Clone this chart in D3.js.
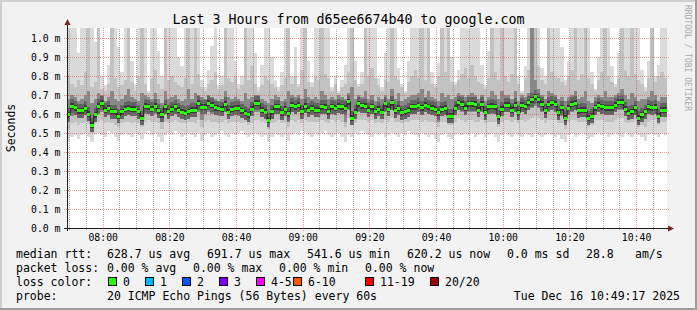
<!DOCTYPE html>
<html>
<head>
<meta charset="utf-8">
<script src="https://cdn.jsdelivr.net/npm/d3@7"></script>
<style>
html, body { margin: 0; padding: 0; background: #f2f2f2; }
svg { display: block; }
text { font-family: "DejaVu Sans Mono", monospace; fill: #000; }
</style>
</head>
<body>
<svg class="chart-smoke" width="697" height="310"></svg>
<script>

// one value per 60 s step, in milliseconds, 180 steps
var median = [
    0.595,0.642,0.633,0.616,0.618,0.630,0.598,0.542,0.595,0.642,0.656,0.621,0.630,0.612,0.612,0.589,0.612,0.625,0.630,0.625,
    0.625,0.612,0.577,0.642,0.639,0.626,0.642,0.618,0.595,0.639,0.612,0.626,0.637,0.621,0.609,0.605,0.612,0.621,0.621,0.656,
    0.635,0.635,0.656,0.647,0.633,0.630,0.626,0.651,0.609,0.626,0.630,0.630,0.618,0.604,0.595,0.625,0.656,0.656,0.621,0.609,
    0.568,0.612,0.639,0.639,0.607,0.625,0.600,0.647,0.639,0.647,0.612,0.642,0.621,0.630,0.621,0.621,0.639,0.635,0.612,0.639,
    0.630,0.642,0.639,0.630,0.665,0.577,0.609,0.653,0.644,0.642,0.621,0.639,0.612,0.625,0.609,0.653,0.625,0.660,0.618,0.630,
    0.607,0.612,0.621,0.639,0.639,0.647,0.633,0.647,0.639,0.630,0.625,0.607,0.625,0.630,0.589,0.589,0.630,0.660,0.651,0.630,
    0.653,0.653,0.651,0.621,0.651,0.607,0.639,0.642,0.639,0.586,0.625,0.647,0.647,0.621,0.647,0.607,0.647,0.639,0.660,0.674,
    0.691,0.674,0.651,0.618,0.651,0.660,0.651,0.607,0.633,0.577,0.630,0.651,0.656,0.618,0.621,0.621,0.577,0.589,0.633,0.647,
    0.639,0.633,0.633,0.633,0.647,0.661,0.661,0.625,0.604,0.612,0.633,0.577,0.595,0.612,0.639,0.633,0.635,0.589,0.621,0.620
];

var smokeTop = [
    1.1,1.1,1.1,0.92,1.1,1.1,1.1,1.1,0.98,1.1,0.80,0.75,0.86,1.1,1.1,0.95,0.82,1.1,1.1,0.88,
    0.76,1.1,1.1,1.1,0.72,1.1,1.1,0.93,0.80,1.1,1.1,1.1,1.1,0.90,0.85,1.1,1.1,1.1,1.1,1.1,
    0.78,0.74,0.83,0.96,1.1,0.75,0.80,1.1,1.1,1.1,0.88,0.76,0.80,1.1,1.1,1.1,0.92,0.74,0.86,1.1,
    1.1,0.90,0.78,0.74,0.82,1.1,1.1,0.80,0.95,0.76,1.1,1.1,0.88,0.77,1.1,1.1,1.1,1.1,1.1,0.74,
    0.80,0.72,0.78,0.86,1.1,1.1,0.88,0.76,0.82,1.1,1.1,1.1,1.1,0.79,0.74,0.92,1.1,1.1,1.1,0.84,
    0.76,0.72,0.88,1.1,1.1,1.1,1.1,1.1,1.1,0.82,0.76,0.87,1.1,1.1,1.1,0.90,0.77,0.83,1.1,1.1,
    1.1,1.1,1.1,1.1,0.86,0.75,0.93,1.1,1.1,1.1,1.1,1.1,1.1,1.1,1.1,0.80,0.72,0.85,1.1,1.1,
    1.1,1.1,0.84,0.80,1.1,1.1,1.1,1.1,0.95,0.78,0.88,1.1,1.1,1.1,1.1,1.1,1.1,0.82,0.73,0.90,
    1.1,1.1,1.1,0.85,0.76,0.92,1.1,1.1,1.1,1.1,1.1,1.1,0.83,0.74,0.88,1.1,0.80,0.86,1.1,1.1
];

var smokeUpper = [
    0.80,0.76,0.74,0.78,0.75,0.82,1.1,0.74,0.77,1.1,0.73,0.72,0.76,1.1,0.79,0.74,0.75,0.78,1.1,0.77,
    0.72,0.80,1.1,0.76,0.71,0.79,0.83,0.76,0.73,1.1,0.78,0.80,0.77,0.75,0.74,0.79,1.1,0.76,1.1,0.81,
    0.74,0.72,0.76,0.78,0.82,0.73,0.75,1.1,0.79,0.77,0.80,0.73,0.75,1.1,0.78,0.85,0.76,0.72,0.75,0.80,
    0.78,0.76,0.74,0.72,0.75,0.79,1.1,0.76,0.80,0.74,0.83,1.1,0.77,0.74,0.80,0.78,1.1,0.81,0.79,0.72,
    0.76,0.71,0.74,0.76,0.82,1.1,0.78,0.74,0.76,1.1,0.80,0.84,0.79,0.75,0.72,0.78,0.77,1.1,0.80,0.78,
    0.74,0.71,0.77,0.80,0.83,0.79,1.1,0.78,1.1,0.76,0.74,0.80,1.1,0.82,1.1,0.77,0.75,0.78,0.81,0.84,
    0.79,0.86,0.80,0.77,0.76,0.73,0.79,1.1,0.82,0.78,1.1,0.80,0.77,0.81,1.1,0.76,0.71,0.79,0.83,1.1,
    1.1,0.85,0.78,0.76,1.1,0.82,0.80,0.79,0.77,0.75,0.80,0.83,1.1,0.78,0.81,1.1,0.79,0.76,0.72,0.78,
    0.82,1.1,0.80,0.77,0.74,0.79,1.1,0.83,0.80,1.1,0.81,0.78,0.76,0.72,0.79,1.1,0.77,0.80,0.82,0.79
];

var smokeInnerTop = [
    0.68,0.70,0.69,0.67,0.68,0.70,0.72,0.66,0.68,0.71,0.70,0.67,0.69,0.72,0.68,0.67,0.68,0.70,0.73,0.69,
    0.68,0.67,0.71,0.70,0.69,0.68,0.71,0.68,0.66,0.72,0.68,0.69,0.70,0.68,0.67,0.68,0.73,0.68,0.71,0.70,
    0.69,0.68,0.70,0.69,0.68,0.67,0.68,0.72,0.69,0.68,0.69,0.68,0.67,0.71,0.68,0.69,0.70,0.70,0.68,0.67,
    0.66,0.68,0.70,0.69,0.67,0.68,0.72,0.70,0.69,0.70,0.68,0.73,0.69,0.68,0.69,0.68,0.72,0.70,0.68,0.69,
    0.68,0.70,0.69,0.68,0.71,0.74,0.68,0.70,0.69,0.72,0.68,0.70,0.67,0.69,0.68,0.70,0.68,0.73,0.68,0.71,
    0.67,0.68,0.69,0.70,0.70,0.71,0.73,0.69,0.72,0.69,0.68,0.67,0.71,0.69,0.70,0.68,0.69,0.71,0.70,0.69,
    0.70,0.71,0.70,0.68,0.70,0.67,0.69,0.72,0.70,0.68,0.72,0.70,0.70,0.68,0.72,0.67,0.70,0.69,0.71,1.1,
    0.78,0.73,0.70,0.68,0.72,0.71,0.70,0.68,0.69,0.67,0.69,0.70,0.72,0.68,0.69,0.72,0.67,0.66,0.69,0.70,
    0.69,0.72,0.69,0.69,0.70,0.71,0.73,0.70,0.68,0.71,0.69,0.67,0.68,0.68,0.69,0.72,0.70,0.67,0.69,0.69
];

var smokeInnerBottom = [
    0.56,0.59,0.60,0.58,0.59,0.60,0.57,0.52,0.57,0.60,0.61,0.59,0.60,0.58,0.58,0.56,0.58,0.59,0.60,0.59,
    0.59,0.58,0.55,0.60,0.60,0.60,0.60,0.58,0.56,0.60,0.58,0.59,0.60,0.59,0.58,0.58,0.59,0.59,0.59,0.61,
    0.57,0.60,0.61,0.60,0.60,0.59,0.59,0.61,0.58,0.59,0.60,0.59,0.59,0.58,0.57,0.59,0.61,0.61,0.59,0.58,
    0.54,0.59,0.60,0.61,0.58,0.59,0.56,0.61,0.60,0.61,0.59,0.61,0.59,0.60,0.59,0.60,0.61,0.60,0.59,0.61,
    0.60,0.61,0.60,0.56,0.62,0.55,0.58,0.61,0.61,0.61,0.59,0.61,0.59,0.59,0.58,0.61,0.60,0.62,0.59,0.60,
    0.58,0.59,0.60,0.61,0.61,0.61,0.60,0.61,0.61,0.60,0.59,0.56,0.60,0.60,0.57,0.57,0.60,0.62,0.61,0.60,
    0.61,0.61,0.61,0.59,0.61,0.58,0.60,0.60,0.60,0.56,0.60,0.61,0.61,0.59,0.61,0.58,0.61,0.60,0.62,0.63,
    0.64,0.63,0.61,0.59,0.61,0.62,0.61,0.58,0.59,0.55,0.60,0.61,0.62,0.59,0.59,0.59,0.56,0.57,0.60,0.61,
    0.60,0.60,0.60,0.60,0.61,0.62,0.62,0.60,0.58,0.59,0.60,0.56,0.57,0.58,0.60,0.60,0.61,0.57,0.59,0.59
];

var smokeLower = [
    0.52,0.55,0.56,0.54,0.55,0.56,0.55,0.50,0.55,0.56,0.57,0.55,0.56,0.55,0.54,0.53,0.55,0.56,0.56,0.55,
    0.56,0.55,0.53,0.56,0.57,0.56,0.56,0.55,0.52,0.56,0.55,0.56,0.57,0.56,0.55,0.55,0.56,0.56,0.55,0.57,
    0.53,0.56,0.57,0.56,0.56,0.55,0.56,0.57,0.55,0.56,0.56,0.56,0.55,0.56,0.54,0.55,0.57,0.57,0.56,0.55,
    0.52,0.55,0.56,0.57,0.55,0.56,0.53,0.57,0.56,0.57,0.55,0.57,0.56,0.56,0.56,0.56,0.57,0.56,0.55,0.57,
    0.56,0.57,0.56,0.53,0.58,0.54,0.55,0.57,0.57,0.57,0.56,0.57,0.55,0.56,0.55,0.57,0.56,0.58,0.56,0.56,
    0.55,0.56,0.56,0.57,0.57,0.57,0.56,0.57,0.56,0.56,0.55,0.53,0.56,0.56,0.54,0.54,0.56,0.58,0.57,0.56,
    0.57,0.57,0.56,0.56,0.57,0.55,0.56,0.56,0.56,0.53,0.56,0.57,0.57,0.56,0.57,0.55,0.57,0.56,0.57,0.58,
    0.59,0.58,0.57,0.55,0.57,0.57,0.57,0.55,0.55,0.52,0.56,0.57,0.57,0.56,0.56,0.56,0.53,0.54,0.57,0.57,
    0.57,0.56,0.56,0.56,0.57,0.58,0.58,0.56,0.55,0.56,0.57,0.53,0.54,0.53,0.56,0.57,0.57,0.54,0.56,0.56
];

var smokeBottom = [
    0.45,0.48,0.49,0.47,0.49,0.50,0.48,0.45,0.49,0.50,0.49,0.48,0.51,0.50,0.48,0.46,0.49,0.50,0.49,0.48,
    0.50,0.49,0.47,0.50,0.51,0.49,0.50,0.48,0.45,0.49,0.50,0.49,0.51,0.50,0.48,0.49,0.50,0.49,0.48,0.50,
    0.46,0.49,0.50,0.48,0.49,0.50,0.51,0.49,0.48,0.50,0.49,0.50,0.51,0.49,0.48,0.49,0.50,0.49,0.48,0.49,
    0.45,0.48,0.50,0.49,0.48,0.49,0.46,0.49,0.50,0.49,0.51,0.50,0.49,0.48,0.50,0.49,0.50,0.51,0.49,0.48,
    0.49,0.50,0.48,0.45,0.49,0.48,0.50,0.49,0.51,0.50,0.49,0.48,0.50,0.49,0.50,0.48,0.49,0.50,0.49,0.48,
    0.50,0.49,0.51,0.50,0.49,0.48,0.50,0.49,0.48,0.49,0.47,0.45,0.49,0.50,0.48,0.47,0.49,0.50,0.49,0.50,
    0.49,0.50,0.48,0.49,0.50,0.48,0.49,0.50,0.48,0.45,0.49,0.50,0.49,0.48,0.50,0.49,0.48,0.50,0.49,0.48,
    0.50,0.49,0.48,0.49,0.50,0.49,0.48,0.49,0.47,0.45,0.49,0.50,0.48,0.49,0.50,0.49,0.47,0.48,0.49,0.50,
    0.49,0.50,0.48,0.49,0.50,0.49,0.48,0.50,0.49,0.48,0.50,0.49,0.48,0.46,0.49,0.50,0.49,0.48,0.50,0.49
];

var yTicks = [0.0, 0.1, 0.2, 0.3, 0.4, 0.5, 0.6, 0.7, 0.8, 0.9, 1.0];
var lossNames = ["0", "1", "2", "3", "4-5", "6-10", "11-19", "20/20"];
var lossColors = ["#26ff00", "#00b8ff", "#0059ff", "#7e00ff", "#ff00ff", "#ff5500", "#ff0000", "#a00000"];

var title = "Last 3 Hours from d65ee6674b40 to google.com";
var startTime = new Date(2025, 11, 16, 7, 49, 17);
var endTime = new Date(2025, 11, 16, 10, 49, 17);
var stepSeconds = 60;

var canvasWidth = 697, canvasHeight = 310;
var plotLeft = 67, plotTop = 28, plotWidth = 600, plotHeight = 200;

var svg = d3.select(".chart-smoke");

// frame
svg.append("rect").attr("width", canvasWidth).attr("height", canvasHeight).attr("fill", "#f2f2f2");
svg.append("path").attr("d", "M0,0H697V2H2V310H0Z").attr("fill", "#cfcfcf");
svg.append("path").attr("d", "M697,0V310H0V308H695V0Z").attr("fill", "#9e9e9e");
svg.append("rect").attr("x", plotLeft).attr("y", plotTop).attr("width", plotWidth).attr("height", plotHeight).attr("fill", "#ffffff");

var x = d3.scaleTime().domain([startTime, endTime]).range([plotLeft, plotLeft + plotWidth]);
var y = d3.scaleLinear().domain([0, 1.0526]).range([plotTop + plotHeight, plotTop]);

function stepStart(i) { return new Date(startTime.getTime() + i * stepSeconds * 1000); }
function stepEnd(i) { return new Date(startTime.getTime() + (i + 1) * stepSeconds * 1000); }

svg.append("clipPath").attr("id", "plot-clip").append("rect")
    .attr("x", plotLeft).attr("y", plotTop).attr("width", plotWidth).attr("height", plotHeight);

var smoke = svg.append("g").attr("clip-path", "url(#plot-clip)").attr("shape-rendering", "crispEdges");

var bands = [
    {hi: smokeTop, lo: smokeBottom, color: "#dadada"},
    {hi: smokeUpper, lo: smokeLower, color: "#c2c2c2"},
    {hi: smokeInnerTop, lo: smokeInnerBottom, color: "#888888"}
];

bands.forEach(function(band) {
    smoke.append("g").selectAll("rect").data(median).enter().append("rect")
        .attr("x", function(d, i) { return x(stepStart(i)); })
        .attr("width", function(d, i) { return x(stepEnd(i)) - x(stepStart(i)); })
        .attr("y", function(d, i) { return y(band.hi[i]); })
        .attr("height", function(d, i) { return Math.max(0, y(band.lo[i]) - y(band.hi[i])); })
        .attr("fill", band.color);
});

// dark core around the median, two shades
[{half: 7, color: "#646464"}, {half: 3, color: "#383838"}].forEach(function(core) {
    smoke.append("g").selectAll("rect").data(median).enter().append("rect")
        .attr("x", function(d, i) { return x(stepStart(i)); })
        .attr("width", function(d, i) { return x(stepEnd(i)) - x(stepStart(i)); })
        .attr("y", function(d) { return y(d) - core.half; })
        .attr("height", core.half * 2)
        .attr("fill", core.color);
});

// grid on top of the smoke
var grid = svg.append("g").attr("shape-rendering", "crispEdges");
var minorTimes = d3.timeMinute.every(5).range(startTime, endTime).filter(function(t) { return t.getMinutes() % 20 !== 0; });
var majorTimes = d3.timeMinute.every(20).range(startTime, endTime);

grid.selectAll(".minor-x").data(minorTimes).enter().append("line")
    .attr("x1", function(d) { return Math.round(x(d)) + 0.5; })
    .attr("x2", function(d) { return Math.round(x(d)) + 0.5; })
    .attr("y1", plotTop + plotHeight + 2).attr("y2", plotTop)
    .attr("stroke", "rgba(143,143,143,0.75)").attr("stroke-dasharray", "1,1");

grid.selectAll(".major-y").data(yTicks).enter().append("line")
    .attr("x1", plotLeft - 3).attr("x2", plotLeft + plotWidth + 2)
    .attr("y1", function(d) { return Math.round(y(d)) + 0.5; })
    .attr("y2", function(d) { return Math.round(y(d)) + 0.5; })
    .attr("stroke", "rgba(222,79,79,0.6)").attr("stroke-dasharray", "1,1");

grid.selectAll(".major-x").data(majorTimes).enter().append("line")
    .attr("x1", function(d) { return Math.round(x(d)) + 0.5; })
    .attr("x2", function(d) { return Math.round(x(d)) + 0.5; })
    .attr("y1", plotTop + plotHeight + 3).attr("y2", plotTop)
    .attr("stroke", "rgba(222,79,79,0.6)").attr("stroke-dasharray", "1,1");

// median line and loss colour blocks
var medianLine = d3.line()
    .x(function(d) { return x(d.t); })
    .y(function(d) { return y(d.v); })
    .curve(d3.curveStepAfter);

var medianPoints = median.map(function(v, i) { return {t: stepStart(i), v: v}; });
medianPoints.push({t: endTime, v: median[median.length - 1]});

svg.append("path").datum(medianPoints).attr("d", medianLine)
    .attr("fill", "none").attr("stroke", "#202020").attr("stroke-width", 1);

svg.append("g").attr("shape-rendering", "crispEdges").selectAll("rect").data(median).enter().append("rect")
    .attr("x", function(d, i) { return x(stepStart(i)); })
    .attr("width", function(d, i) { return x(stepEnd(i)) - x(stepStart(i)); })
    .attr("y", function(d) { return y(d) - 1.5; })
    .attr("height", 3)
    .attr("fill", lossColors[0]);

// axes
var axisY0 = plotTop + plotHeight + 0.5;
svg.append("line").attr("x1", plotLeft - 3).attr("x2", plotLeft + plotWidth + 2).attr("y1", axisY0).attr("y2", axisY0).attr("stroke", "#1f1f1f");
svg.append("line").attr("x1", plotLeft + 0.5).attr("x2", plotLeft + 0.5).attr("y1", plotTop + plotHeight + 3).attr("y2", plotTop - 4).attr("stroke", "#1f1f1f");
svg.append("path").attr("d", "M" + (plotLeft + plotWidth + 1) + "," + (axisY0 - 3) + "l6,3l-6,3Z").attr("fill", "#801f1f");
svg.append("path").attr("d", "M" + (plotLeft - 2.5) + "," + (plotTop - 3) + "l3,-6l3,6Z").attr("fill", "#801f1f");

svg.append("g").selectAll("text").data(yTicks).enter().append("text")
    .attr("x", 60.5).attr("y", function(d) { return y(d) + 4; })
    .attr("text-anchor", "end").style("font-size", "9.8px")
    .text(function(d) { return d3.format(".1f")(d) + " m"; });

svg.append("g").selectAll("text").data(majorTimes).enter().append("text")
    .attr("x", function(d) { return x(d) + 0.5; }).attr("y", 240.5)
    .attr("text-anchor", "middle").style("font-size", "9.8px")
    .text(d3.timeFormat("%H:%M"));

svg.append("text").attr("transform", "translate(15," + (plotTop + plotHeight / 2) + ") rotate(-90)")
    .attr("text-anchor", "middle").style("font-size", "11.5px").text("Seconds");

svg.append("text").attr("x", 348.5).attr("y", 24).attr("text-anchor", "middle").style("font-size", "13.3px").text(title);

svg.append("text").attr("transform", "translate(685,5) rotate(90)")
    .style("font-size", "8px").style("fill", "#a8a8a8").text("RRDTOOL / TOBI OETIKER");

// legend
var legendRows = [
    {y: 258, items: [[16, "median rtt:"], [107, "628.7 us avg"], [207, "691.7 us max"], [307, "541.6 us min"], [407, "620.2 us now"], [507, "0.0 ms sd"], [586, "28.8"], [635, "am/s"]]},
    {y: 272, items: [[16, "packet loss:"], [107, "0.00 % avg"], [193, "0.00 % max"], [279, "0.00 % min"], [365, "0.00 % now"]]},
    {y: 286, items: [[16, "loss color:"]]},
    {y: 300, items: [[16, "probe:"], [107, "20 ICMP Echo Pings (56 Bytes) every 60s"]]}
];

legendRows.forEach(function(row) {
    row.items.forEach(function(item) {
        svg.append("text").attr("x", item[0]).attr("y", row.y).style("font-size", "11.5px")
            .attr("xml:space", "preserve").text(item[1]);
    });
});

svg.append("text").attr("x", 680).attr("y", 300).attr("text-anchor", "end").style("font-size", "11.5px").text("Tue Dec 16 10:49:17 2025");

var boxX = [108, 145, 182, 219, 256, 293, 365, 430];
var lossLegend = svg.append("g").selectAll("g").data(lossNames).enter().append("g")
    .attr("transform", function(d, i) { return "translate(" + boxX[i] + ",277)"; });

lossLegend.append("rect").attr("x", 0.5).attr("y", 0.5).attr("width", 8).attr("height", 8)
    .attr("fill", function(d, i) { return lossColors[i]; }).attr("stroke", "#000").attr("shape-rendering", "crispEdges");

lossLegend.append("text").attr("x", 15).attr("y", 9).style("font-size", "11.5px").text(function(d) { return d; });

</script>
</body>
</html>
